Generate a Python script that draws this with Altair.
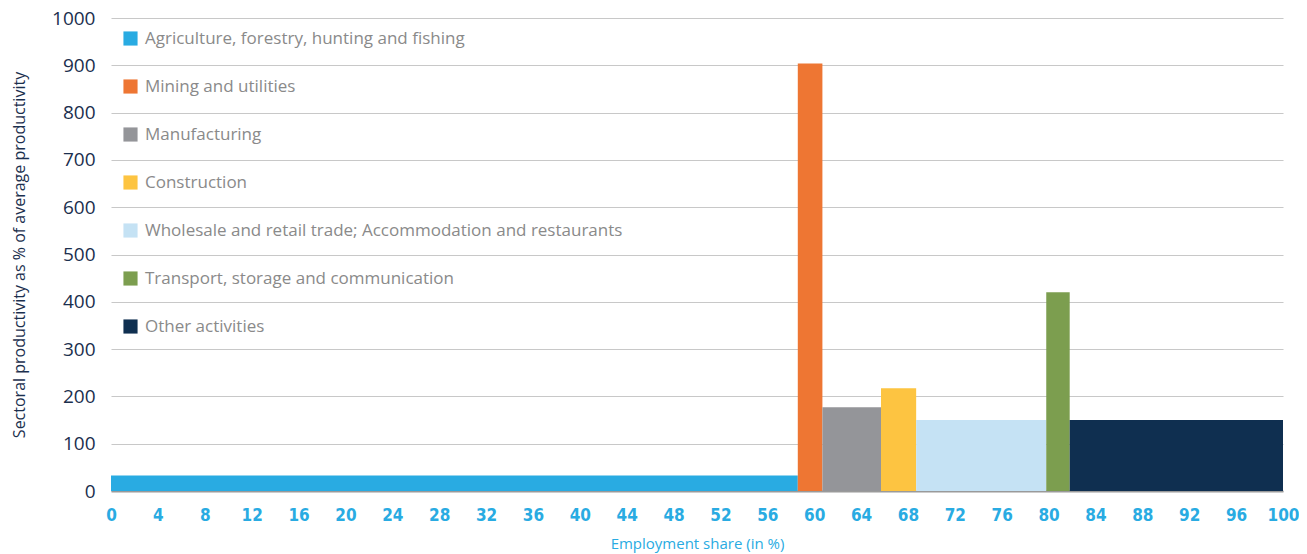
import altair as alt
import pandas as pd

sectors = [
    "Agriculture, forestry, hunting and fishing",
    "Mining and utilities",
    "Manufacturing",
    "Construction",
    "Wholesale and retail trade; Accommodation and restaurants",
    "Transport, storage and communication",
    "Other activities",
]
employment_share = [58.6, 2.1, 5.0, 3.0, 11.1, 2.0, 18.2]
productivity = [33, 904, 177, 217, 150, 420, 150]
colors = ["#29abe2", "#ee7633", "#949599", "#fdc441", "#c5e2f4", "#7c9e4f", "#0f2f50"]

df = pd.DataFrame({"sector": sectors, "share": employment_share, "prod": productivity})
df["x_end"] = df["share"].cumsum()
df["x_start"] = df["x_end"] - df["share"]

chart = alt.Chart(df).mark_rect().encode(
    x=alt.X("x_start:Q",
            scale=alt.Scale(domain=[0, 100], nice=False, zero=True),
            axis=alt.Axis(values=list(range(0, 101, 4)), title="Employment share (in %)",
                          grid=False, ticks=False, domain=True, domainColor="#9a9a9a", domainWidth=2,
                          labelColor="#29abe2", labelFont="DejaVu Sans Condensed", labelFontWeight="bold",
                          labelFontSize=17, labelPadding=16, labelFlush=False, labelOverlap=False,
                          titleColor="#29abe2", titleFont="Open Sans", titleFontSize=15,
                          titleFontWeight="normal", titlePadding=13)),
    x2="x_end:Q",
    y=alt.Y("prod:Q",
            scale=alt.Scale(domain=[0, 1000], nice=False),
            axis=alt.Axis(values=list(range(0, 1001, 100)), format="d",
                          title="Sectoral productivity as % of average productivity",
                          grid=True, gridColor="#c8c8c8", gridWidth=1.2, ticks=False, domain=False,
                          labelColor="#1b2f4e", labelFont="Open Sans", labelFontSize=19, labelPadding=16,
                          labelFlush=False,
                          titleColor="#1b2f4e", titleFont="Open Sans", titleFontSize=16,
                          titleFontWeight="normal", titlePadding=24)),
    y2=alt.datum(0),
    color=alt.Color("sector:N",
                    scale=alt.Scale(domain=sectors, range=colors),
                    sort=sectors,
                    legend=alt.Legend(title=None, orient="none", legendX=11, legendY=12,
                                      symbolType="square", symbolSize=200, symbolStrokeWidth=0,
                                      labelFont="Open Sans", labelFontSize=17, labelColor="#8a8a8a",
                                      rowPadding=30, labelOffset=6, labelLimit=800)),
).properties(
    width=1172, height=473,
    padding={"left": 103, "top": 10, "right": 16, "bottom": 62},
    autosize=alt.AutoSizeParams(type="none"),
).configure_view(stroke=None)

chart.save("out.html", embed_options={"renderer": "svg", "actions": False})
